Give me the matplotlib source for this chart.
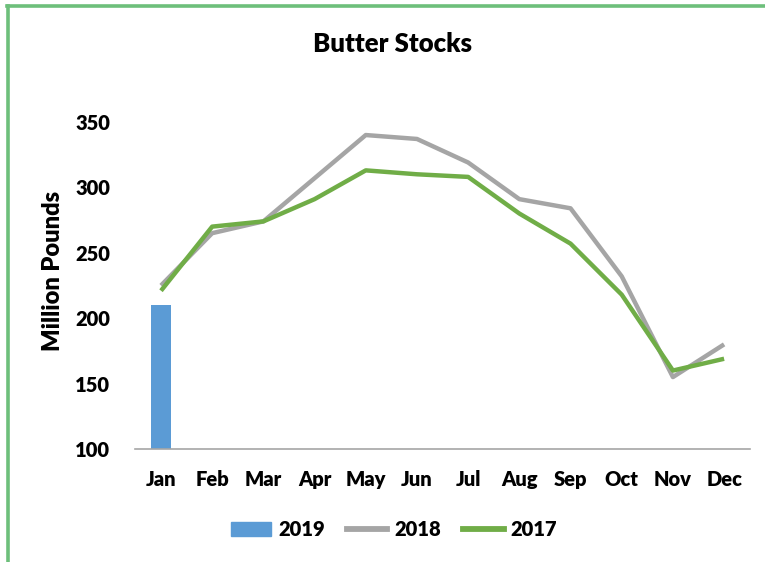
import matplotlib
matplotlib.use("Agg")
import matplotlib.pyplot as plt
from matplotlib.patches import Rectangle
from matplotlib.lines import Line2D

months = ["Jan", "Feb", "Mar", "Apr", "May", "Jun", "Jul", "Aug", "Sep", "Oct", "Nov", "Dec"]
stocks_2019 = [210]
stocks_2018 = [225, 265, 274, 307, 340, 337, 319, 291, 284, 232, 155, 180]
stocks_2017 = [221, 270, 274, 291, 313, 310, 308, 280, 257, 218, 160, 169]
yticks = [100, 150, 200, 250, 300, 350]

plt.rcParams['font.family'] = ['Lato', 'DejaVu Sans']
W = "heavy"

fig = plt.figure(figsize=(7.65, 5.62), dpi=100)
ax = fig.add_axes([0.177, 0.201, 0.803, 0.582])

x = list(range(len(months)))
ax.bar(x[:len(stocks_2019)], stocks_2019, width=0.41, color="#5b9bd5", label="2019", zorder=2)
ax.plot(x, stocks_2018, color="#a5a5a5", lw=3.2, label="2018", zorder=3, solid_capstyle="butt")
ax.plot(x, stocks_2017, color="#70ad47", lw=3.2, label="2017", zorder=4, solid_capstyle="butt")

ax.set_xlim(-0.5, 11.5)
ax.set_ylim(100, 350)
ax.set_yticks(yticks)
ax.set_xticks(x)
ax.set_xticklabels(months)
for s in ["top", "right", "left"]:
    ax.spines[s].set_visible(False)
ax.spines["bottom"].set_color("#a6a6a6")
ax.spines["bottom"].set_linewidth(1.2)
ax.tick_params(axis="both", length=0, labelsize=14.5, colors="#000000")
ax.tick_params(axis="y", pad=18)
ax.tick_params(axis="x", pad=15)
for lab in ax.get_xticklabels() + ax.get_yticklabels():
    lab.set_fontweight(W)

fig.text(0.069, 0.518, "Million Pounds", rotation=90, ha="center", va="center",
         fontsize=17, fontweight=W)
fig.text(0.513, 0.922, "Butter Stocks", ha="center", va="center", fontsize=18.5, fontweight=W)

handles = [Rectangle((0, 0), 1, 1, color="#5b9bd5"),
           Line2D([], [], color="#a5a5a5", lw=4.2),
           Line2D([], [], color="#70ad47", lw=4.2)]
leg = fig.legend(handles, ["2019", "2018", "2017"], loc="center", bbox_to_anchor=(0.515, 0.057),
                 ncol=3, frameon=False, prop={"weight": W, "size": 14.5},
                 handlelength=2.0, handletextpad=0.35, columnspacing=1.1)

# green border
fig.add_artist(Line2D([0.0105, 0.0105], [0.0, 0.9895], color="#6dbf7b", lw=2.6, transform=fig.transFigure))
fig.add_artist(Line2D([0.0092, 1.0], [0.9895, 0.9895], color="#6dbf7b", lw=2.6, transform=fig.transFigure))

fig.savefig("out.png", dpi=100)
